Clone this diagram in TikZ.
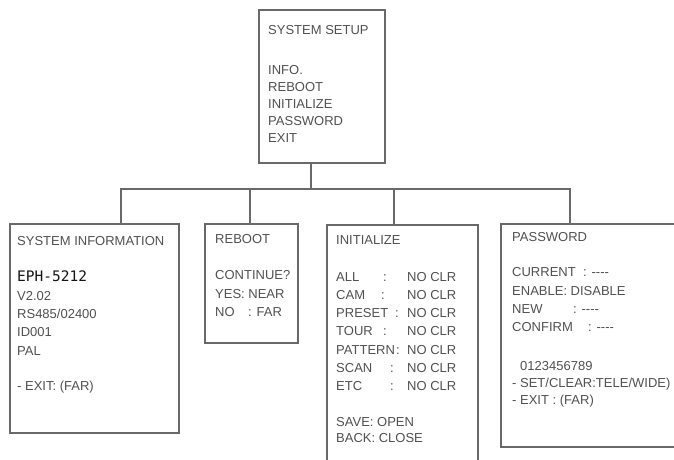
\documentclass[tikz,border=0pt]{standalone}
\usepackage{fontspec}
\setmainfont{Liberation Sans}
\newfontfamily\monofont{DejaVu Sans Mono}
\usetikzlibrary{positioning,calc}
\definecolor{boxgray}{RGB}{105,105,105}
\definecolor{txtgray}{RGB}{80,80,80}
\definecolor{txtdark}{RGB}{20,20,20}
\newcommand{\initrow}[2]{\makebox[71pt][l]{\makebox[#2][l]{#1}:}NO CLR}
\newcommand{\fillrow}[2]{\makebox[#2][l]{#1}: -{}-{}-{}-}

\begin{document}
\begin{tikzpicture}[x=1pt, y=1pt,
  menubox/.style={draw=boxgray, line width=1.7pt, anchor=north west, inner sep=0pt},
  menutext/.style={txtgray, anchor=north west, inner sep=0pt, align=left,
                   font=\fontsize{13}{18.3}\selectfont},
  link/.style={boxgray, line width=1.7pt}]
  \useasboundingbox (0,0) rectangle (674,-459);
  \clip (0,0) rectangle (674,-459);
  % --- menu boxes ---
  \node[menubox, minimum width=126, minimum height=153] (setup)  at (258,-9)   {};
  \node[menubox, minimum width=169, minimum height=209] (info)   at (9,-223)   {};
  \node[menubox, minimum width=93,  minimum height=119] (reboot) at (204,-223) {};
  \node[menubox, minimum width=151, minimum height=250] (init)   at (326,-224) {};
  \node[menubox, minimum width=190, minimum height=223] (pass)   at (500,-223) {};
  % --- menu texts ---
  \node[menutext, font=\fontsize{13}{17}\selectfont,
        below right=16.6pt and 10pt of setup.north west] (setuptxt)
    {SYSTEM SETUP\\[23pt] INFO.\\ REBOOT\\ INITIALIZE\\ PASSWORD\\ EXIT};
  \node[menutext, below right=13.6pt and 8pt of info.north west] (infotxt)
    {SYSTEM INFORMATION\\[17.7pt]
     {\color{txtdark}\fontsize{14.5}{18.3}\monofont EPH-5212}\\
     V2.02\\ RS485/02400\\ ID001\\ PAL\\[17.5pt] - EXIT: (FAR)};
  \node[menutext, below right=11.6pt and 11pt of reboot.north west] (reboottxt)
    {REBOOT\\[17.7pt] CONTINUE?\\ YES: NEAR\\ \makebox[33pt][l]{NO}: FAR};
  \node[menutext, below right=11.6pt and 10pt of init.north west] (inittxt)
    {INITIALIZE\\[18pt]
     \initrow{ALL}{47pt}\\ \initrow{CAM}{45pt}\\ \initrow{PRESET}{59pt}\\
     \initrow{TOUR}{47pt}\\ \initrow{PATTERN}{60pt}\\ \initrow{SCAN}{54pt}\\
     \initrow{ETC}{54pt}\\[17.6pt] SAVE: OPEN\\[-2.3pt] BACK: CLOSE};
  \node[menutext, below right=9.6pt and 12pt of pass.north west] (passtxt)
    {PASSWORD\\[16.7pt] \fillrow{CURRENT}{71pt}\\ ENABLE: DISABLE\\
     \fillrow{NEW}{61pt}\\ \fillrow{CONFIRM}{76pt}\\[20.7pt]
     \hspace*{8pt}0123456789\\[-1.3pt] - SET/CLEAR:TELE/WIDE)\\[-1.3pt] - EXIT : (FAR)};
  % --- connectors ---
  \coordinate (setupdrop) at ($(setup.south west)+(53,0)$);
  \coordinate (bus)       at ($(setupdrop)+(0,-25)$);
  \coordinate (infotop)   at ($(info.north west)+(112,0)$);
  \coordinate (reboottop) at ($(reboot.north west)+(46,0)$);
  \coordinate (inittop)   at ($(init.north west)+(68,0)$);
  \coordinate (passtop)   at ($(pass.north west)+(70,0)$);
  \draw[link] (setupdrop) -- (bus);
  \draw[link] (infotop) |- (bus) -| (passtop);
  \draw[link] (reboottop) -- (reboottop |- bus);
  \draw[link] (inittop) -- (inittop |- bus);
\end{tikzpicture}
\end{document}
